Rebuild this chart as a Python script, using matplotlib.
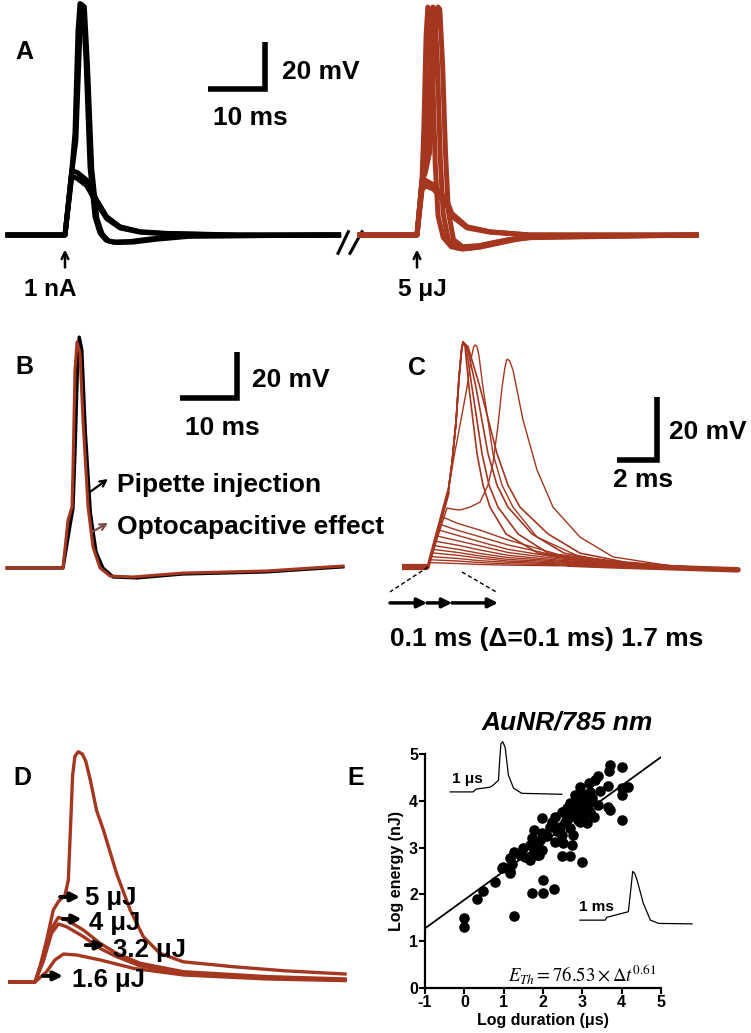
import math
import matplotlib
matplotlib.use('Agg')
from matplotlib import pyplot as plt

plt.rcParams['font.family'] = ['Liberation Sans', 'DejaVu Sans']
plt.rcParams['mathtext.fontset'] = 'stix'
plt.rcParams['axes.unicode_minus'] = False

RED = '#a5361f'
W, H = 751, 1033

# ---------------- data (ms, mV) ----------------
# A: pipette (black) and light (red) evoked traces
A_K_SPIKE1_T = [-10, 0, 1.23, 1.75, 2.28, 2.63, 3.16, 3.68, 4.39, 5.26, 6.14, 7.2, 8.4, 11.4, 14.9, 21.4, 48]
A_K_SPIKE1_V = [0, 0, 28.5, 43.4, 87, 98.5, 97.5, 74.5, 28.9, 7.7, 0.85, -2.2, -3.0, -2.8, -1.7, -0.4, 0]
A_K_SPIKE2_T = [-10, 0, 1.2, 1.9, 2.6, 2.95, 3.4, 3.95, 4.7, 5.6, 6.5, 7.6, 9, 12, 16, 22, 48]
A_K_SPIKE2_V = [0, 0, 27, 40, 85, 98, 97, 72, 28, 7, 0.5, -2.5, -3.2, -3.0, -1.8, -0.5, 0]
A_K_SUB1_T = [-10, 0, 1.2, 2.2, 3.8, 5.56, 7.3, 9.65, 13.2, 17.8, 30, 48]
A_K_SUB1_V = [0, 0, 27.5, 26.5, 23.4, 14.9, 7.8, 3.5, 1.4, 0.7, 0, 0]
A_K_SUB2_V = [0, 0, 25, 24, 21, 13.5, 7, 3, 1.2, 0.5, 0, 0]

A_R_SPIKE1_T = [-10, 0, 0.88, 1.2, 1.6, 1.9, 2.2, 2.7, 3.2, 3.7, 4.6, 6.0, 8, 11, 17, 20, 49]
A_R_SPIKE1_V = [0, 0, 23.4, 45, 85, 97, 96, 72, 30, 8, -1, -5, -6, -5.2, -2.1, -0.9, 0]
A_R_SPIKE2_T = [-10, 0, 0.88, 1.4, 2.1, 2.5, 2.8, 3.1, 3.6, 4.1, 4.6, 5.5, 7, 9.5, 13, 18, 49]
A_R_SPIKE2_V = [0, 0, 23.4, 28, 60, 90, 97, 96, 72, 32, 9, -2, -5.5, -5.5, -3.5, -1.2, 0]
A_R_SPIKE3_T = [-10, 0, 0.88, 1.4, 2.2, 2.9, 3.4, 3.7, 4.0, 4.5, 5.0, 5.5, 6.4, 8, 11, 16, 22, 49]
A_R_SPIKE3_V = [0, 0, 23.4, 26, 35, 70, 94, 97, 96, 72, 35, 10, -2, -5, -4.5, -2, -0.6, 0]
A_R_SUB1_T = [-10, 0, 0.88, 1.4, 2.9, 5.2, 6.1, 8.8, 12.8, 19.8, 49]
A_R_SUB1_V = [0, 0, 21, 23.4, 21.3, 14.9, 9.2, 3.5, 1.4, 0, 0]
A_R_SUB2_V = [0, 0, 19, 21, 19.5, 13, 8, 3, 1.2, 0, 0]

# B: pipette injection vs optocapacitive
B_PIP_T = [-9.8, 0, 1.2, 1.75, 2.1, 2.6, 2.85, 3.3, 3.9, 4.8, 5.8, 7, 8.8, 13, 21, 35.6, 49.1]
B_PIP_V = [0, 0, 18, 26, 50, 92, 100.4, 95, 60, 24, 7, 0, -3.9, -4.3, -2.6, -1.7, 0.5]
B_OPTO_T = [-9.8, 0, 0.88, 1.58, 1.75, 2.1, 2.46, 2.98, 3.5, 4.4, 5.26, 6.5, 8.25, 12.3, 21, 35.6, 49.1]
B_OPTO_V = [0, 0, 20.9, 26.5, 42.6, 86, 98.3, 93.5, 64.3, 26.5, 9.1, 0, -3.5, -3.9, -2.2, -1.3, 0.87]

# C: pulse duration series 0.1 - 1.7 ms
C_SUB_T = [1.5, 2.6, 4.0, 6.5, 9.5, 12.0, 15.5]
C_SUB_TB = [0.68, 0.58, 0.50, 0.42, 0.35, 0.29, 0.24, 0.19, 0.14, 0.10, 0.06]
C_SUB_VB = [16.0, 13.6, 11.8, 9.9, 8.2, 6.8, 5.6, 4.5, 3.3, 2.3, 1.4]
C_SUB_V = [
    [13.8, 11.7, 8.6, 4.0, 1.6, 0.3, -0.8],
    [11.6, 9.6, 7.0, 3.5, 1.4, 0.3, -0.8],
    [10.0, 8.0, 5.6, 3.0, 1.2, 0.2, -0.8],
    [8.3, 6.7, 4.6, 2.6, 1.0, 0.2, -0.8],
    [6.9, 5.4, 3.7, 2.2, 0.9, 0.1, -0.8],
    [5.6, 4.3, 3.0, 1.9, 0.8, 0.1, -0.8],
    [4.6, 3.5, 2.4, 1.6, 0.6, 0.0, -0.8],
    [3.7, 2.8, 1.9, 1.3, 0.5, 0.0, -0.8],
    [2.7, 2.0, 1.5, 1.0, 0.4, 0.0, -0.8],
    [1.9, 1.4, 1.0, 0.7, 0.3, -0.1, -0.8],
    [1.1, 0.8, 0.6, 0.4, 0.2, -0.1, -0.8],
]
C_RISE_T = [0, 1.0, 1.2, 1.4, 1.55, 1.68, 1.75]
C_RISE_V = [0, 23.5, 33, 46, 60, 69, 71.4]
C_FALL_T = [
    [1.85, 2.05, 2.45, 2.75, 3.1, 3.9, 5.5, 8.0, 12, 15.5],
    [1.9, 2.2, 2.7, 3.05, 3.5, 4.5, 6.0, 8.5, 12, 15.5],
    [1.95, 2.4, 3.0, 3.45, 4.0, 5.2, 6.8, 9.2, 12.5, 15.5],
    [2.0, 2.6, 3.45, 4.0, 4.6, 6.0, 7.6, 9.8, 12.5, 15.5],
]
C_FALL_V = [70, 57, 36, 26, 19, 10.5, 4.4, 1.6, 0.2, -0.8]
C_LATE_T = [0, 1.0, 1.3, 1.6, 1.95, 2.15, 2.28, 2.35, 2.45, 2.55, 2.75, 3.25, 3.7, 4.25, 5.45, 7.6, 11, 15.5]
C_LATE_V = [0, 23.5, 35, 45, 57, 66, 69.8, 70.5, 70, 67, 57, 36, 26, 19, 9.5, 3.2, 0.6, -0.8]
C_DIP_T = [0, 0.95, 1.3, 1.6, 2.1, 2.6, 3.0, 3.25, 3.5, 3.7, 3.85, 3.95, 4.08, 4.25, 4.75, 5.45, 6.25, 7.6, 9.25, 12, 15.5]
C_DIP_V = [0, 18.7, 18.3, 18.1, 19, 20.6, 26, 33, 45, 57, 63.5, 66, 65.5, 62.5, 46.7, 30.8, 19, 9.5, 3.2, 0.5, -0.8]
C_BASE_T = [-1.3, 0]
C_BASE_V = [0, 0]
C_TAIL_T = [7, 9, 12, 15.5]
C_TAIL_V = [0.9, 0.4, -0.2, -0.9]

# D: energy series
D_LABELS = ['5 μJ', '4 μJ', '3.2 μJ', '1.6 μJ']
D_5_T = [-4.4, 0, 0.88, 2.05, 3.2, 4.1, 5.26, 5.85, 6.3, 6.6, 7.0, 7.6, 8.3, 8.9, 9.7, 10.8, 12.0, 14.3, 16.7, 19.0, 21.9, 26, 34.8, 43.6, 54.4]
D_5_V = [0, 0, 6.5, 17.9, 30.6, 34.2, 37, 43.4, 70, 88, 96, 98, 97, 94, 86, 73, 64.7, 46.3, 30.6, 19.3, 12.2, 8.6, 6.5, 4.8, 3.4]
D_4_T = [-4.4, 0, 1.46, 2.9, 4.1, 5.55, 8.5, 11.4, 14.3, 18.4, 26, 40.6, 54.4]
D_4_V = [0, 0, 10.8, 22.8, 27.5, 26.4, 22.1, 16.5, 12.2, 8, 4.4, 2.3, 1.3]
D_32_V = [0, 0, 8.8, 20.7, 24.7, 23.5, 19.3, 14.3, 10.8, 6.9, 3.7, 1.7, 0.9]
D_16_T = [-4.4, 0, 2.05, 3.5, 5.0, 7.3, 11.4, 17.3, 26, 40.6, 54.4]
D_16_V = [0, 0, 4.4, 9.4, 11.9, 11.5, 9.4, 5.8, 3.0, 1.3, 0.6]

# E: threshold energy vs pulse duration (log10)
E_X = [0, 0, 0.32, 0.48, 0.78, 0.95, 1.15, 1.25, 1.72, 1.99, 1.99, 2.28, 0.99, 1.16, 1.21, 1.25,
       1.42, 1.50, 1.67, 1.67, 1.72, 1.76, 1.76, 1.84, 1.84, 1.93, 1.97, 1.97, 1.97, 2.18, 2.22,
       2.31, 2.31, 2.44, 2.48, 2.48, 2.52, 2.61, 2.61, 2.69, 2.69, 2.73, 2.77, 2.77, 2.82, 2.90,
       2.94, 2.94, 2.94, 3.03, 3.11, 3.11, 3.16, 3.16, 3.20, 3.20, 3.33, 3.41, 3.41, 3.66, 3.66,
       3.69, 3.71, 3.71, 4.0, 4.0, 4.0, 4.17, 4.0, 2.48, 2.69, 2.99, 1.16, 3.0, 3.05, 2.85, 3.25,
       3.1, 2.55, 2.35, 2.1, 1.9, 1.55, 3.3, 2.9, 3.0, 3.45]
E_Y = [1.49, 1.30, 1.90, 2.08, 2.27, 2.56, 2.45, 1.54, 2.02, 2.31, 2.04, 2.11, 2.59, 2.77, 2.66, 2.91,
       2.84, 2.99, 2.73, 3.06, 3.20, 3.38, 2.91, 3.06, 2.84, 3.16, 3.63, 3.31, 2.95, 3.45, 3.55,
       3.66, 3.11, 3.45, 3.77, 3.27, 3.09, 3.84, 3.63, 3.95, 3.41, 3.06, 3.70, 3.27, 4.12, 3.98,
       4.30, 3.80, 3.55, 3.70, 4.09, 3.52, 4.37, 3.95, 4.19, 3.77, 4.44, 4.52, 3.91, 4.32, 3.87,
       4.64, 4.76, 3.80, 4.73, 4.27, 4.12, 4.30, 3.60, 2.81, 2.81, 2.70, 2.49, 3.90, 4.00, 3.85, 4.05,
       3.75, 3.55, 3.35, 3.25, 2.85, 2.80, 3.65, 3.60, 4.15, 4.20]
FIT_A = 76.53
FIT_B = 0.61
FIT_X = [-1, 5]
INSET_US_X = [-0.36, 0.22, 0.30, 0.65, 0.74, 0.87, 0.89, 0.93, 0.98, 1.04, 1.12, 1.25, 1.46, 1.93, 2.48]
INSET_US_Y = [4.19, 4.19, 4.25, 4.29, 4.34, 4.44, 4.76, 5.22, 5.26, 5.13, 4.55, 4.27, 4.16, 4.15, 4.14]
INSET_MS_X = [2.94, 3.58, 3.62, 4.17, 4.23, 4.28, 4.33, 4.39, 4.55, 4.73, 4.94, 5.79]
INSET_MS_Y = [1.45, 1.45, 1.51, 1.63, 2.09, 2.49, 2.45, 2.31, 1.81, 1.45, 1.38, 1.37]


fig = plt.figure(figsize=(W / 100, H / 100), dpi=100)


def panel(box, origin, scale):
    # box: pixel left, right, top, bottom; origin: pixel of (0 ms, 0 mV); scale: px per ms, px per mV
    x0, x1, y0, y1 = box
    ox, oy = origin
    sx, sy = scale
    ax = fig.add_axes([x0 / W, 1 - y1 / H, (x1 - x0) / W, (y1 - y0) / H])
    ax.set_xlim((x0 - ox) / sx, (x1 - ox) / sx)
    ax.set_ylim((oy - y1) / sy, (oy - y0) / sy)
    ax.axis('off')
    return ax


def scalebar(ax, t0, v0, dt, dv, lw):
    ax.plot([t0, t0 + dt, t0 + dt], [v0, v0, v0 + dv], color='k', lw=lw,
            solid_joinstyle='miter', solid_capstyle='butt')


def label(px, py, s):
    fig.text(px / W, 1 - py / H, s, fontsize=18, fontweight='bold', ha='left', va='center')


def btext(ax, x, y, s, size=19, **kw):
    ax.text(x, y, s, fontsize=size, fontweight='bold', va='center', **kw)


# ---------------- A ----------------
ax_a1 = panel((0, 365, 0, 300), (65, 235), (5.7, 2.35))
ax_a2 = panel((350, 751, 0, 300), (417, 235), (5.7, 2.35))
for t, v in [(A_K_SUB1_T, A_K_SUB1_V), (A_K_SUB1_T, A_K_SUB2_V),
             (A_K_SPIKE1_T, A_K_SPIKE1_V), (A_K_SPIKE2_T, A_K_SPIKE2_V)]:
    ax_a1.plot(t, v, color='k', lw=3.6, solid_joinstyle='round')
for t, v in [(A_R_SUB1_T, A_R_SUB1_V), (A_R_SUB1_T, A_R_SUB2_V), (A_R_SPIKE1_T, A_R_SPIKE1_V),
             (A_R_SPIKE2_T, A_R_SPIKE2_V), (A_R_SPIKE3_T, A_R_SPIKE3_V)]:
    ax_a2.plot(t, v, color=RED, lw=3.6, solid_joinstyle='round')
# axis break
ax_a1.plot([47.9, 49.7], [-7.8, 1.4], color='k', lw=2.2)
ax_a1.plot([50.0, 52.1], [-7.8, 1.4], color='k', lw=2.2)
scalebar(ax_a1, 25.1, 62.1, 10, 20, 4)
btext(ax_a1, 38.1, 69.4, '20 mV')
btext(ax_a1, 26.0, 49.8, '10 ms')
for ax, txt, tx in [(ax_a1, '1 nA', -2.6), (ax_a2, '5 μJ', 1.0)]:
    ax.annotate('', xy=(0, -6.2), xytext=(0, -13.8),
                arrowprops=dict(arrowstyle='->', color='k', lw=1.8, mutation_scale=12,
                                shrinkA=0, shrinkB=0))
    btext(ax, tx, -23.4, txt, size=17.5, ha='center')
label(15, 52, 'A')

# ---------------- B ----------------
ax_b = panel((0, 370, 320, 610), (63, 568), (5.7, 2.3))
ax_b.plot(B_PIP_T, B_PIP_V, color='k', lw=2.4)
ax_b.plot(B_OPTO_T, B_OPTO_V, color=RED, lw=2.2)
scalebar(ax_b, 20.5, 73.9, 10, 20, 4)
btext(ax_b, 33.2, 81.7, '20 mV')
btext(ax_b, 21.4, 60.9, '10 ms')
ax_b.annotate('', xy=(7.9, 38.7), xytext=(4.7, 33.0),
              arrowprops=dict(arrowstyle='->', color='k', lw=1.6, mutation_scale=11, shrinkA=0, shrinkB=0))
ax_b.annotate('', xy=(7.9, 19.6), xytext=(5.1, 15.7),
              arrowprops=dict(arrowstyle='->', color='#7b4c4c', lw=1.6, mutation_scale=11, shrinkA=0, shrinkB=0))
btext(ax_b, 9.5, 36.1, 'Pipette injection')
btext(ax_b, 9.5, 17.8, 'Optocapacitive effect')
label(15, 367, 'B')

# ---------------- C ----------------
ax_c = panel((385, 751, 320, 660), (428, 567), (20, 3.15))
ax_c.plot(C_BASE_T, C_BASE_V, color=RED, lw=4.5, solid_capstyle='butt')
ax_c.plot(C_TAIL_T, C_TAIL_V, color=RED, lw=4, solid_capstyle='round')
for tb, vb, vals in zip(C_SUB_TB, C_SUB_VB, C_SUB_V):
    ax_c.plot([0, tb] + C_SUB_T, [0, vb] + vals, color=RED, lw=1.0)
for ft in C_FALL_T:
    ax_c.plot(C_RISE_T + ft, C_RISE_V + C_FALL_V, color=RED, lw=1.2)
ax_c.plot(C_LATE_T, C_LATE_V, color=RED, lw=1.0)
ax_c.plot(C_DIP_T, C_DIP_V, color=RED, lw=1.0)
ax_c.plot(C_RISE_T[:2], C_RISE_V[:2], color=RED, lw=2.5)
scalebar(ax_c, 9.45, 34, 2, 20, 4)
btext(ax_c, 12.05, 42.9, '20 mV')
btext(ax_c, 9.25, 27.6, '2 ms')
ax_c.plot([0, -1.9], [0, -7.9], color='k', lw=1, ls=(0, (3, 2)))
ax_c.plot([1.7, 3.5], [-1.6, -8.25], color='k', lw=1, ls=(0, (3, 2)))
for a, b in [(-1.9, -0.05), (-0.05, 1.2), (1.2, 3.5)]:
    ax_c.annotate('', xy=(b, -11.4), xytext=(a, -11.4), annotation_clip=False,
                  arrowprops=dict(arrowstyle='-|>', color='k', lw=2.5, mutation_scale=14,
                                  shrinkA=0, shrinkB=0))
btext(ax_c, -1.9, -23.0, '0.1 ms (Δ=0.1 ms) 1.7 ms')
label(408, 368, 'C')

# ---------------- D ----------------
ax_d = panel((0, 370, 690, 1010), (35, 982), (5.7, 2.35))
ax_d.plot(D_16_T, D_16_V, color=RED, lw=2.4)
ax_d.plot(D_4_T, D_32_V, color=RED, lw=2.4)
ax_d.plot(D_4_T, D_4_V, color=RED, lw=2.4)
ax_d.plot(D_5_T, D_5_V, color=RED, lw=2.4)
d_pos = [((4.4, 36.2), (7.9, 36.2), (8.8, 35.7)),
         ((4.9, 26.8), (8.2, 26.8), (9.5, 25.1)),
         ((8.9, 15.7), (12.3, 15.7), (13.7, 13.6)),
         ((1.4, 2.6), (4.9, 2.6), (6.5, 0.85))]
for lab, (a, b, tp) in zip(D_LABELS, d_pos):
    ax_d.annotate('', xy=b, xytext=a,
                  arrowprops=dict(arrowstyle='-|>', color='k', lw=2.8, mutation_scale=13,
                                  shrinkA=0, shrinkB=0))
    btext(ax_d, tp[0], tp[1], lab, size=18.5)
label(13, 778, 'D')

# ---------------- E ----------------
ax_e = fig.add_axes([425 / W, 1 - 988 / H, 236 / W, 234 / H])
ax_e.scatter(E_X, E_Y, s=58, color='k', linewidths=0, zorder=3)
fit_y = [math.log10(FIT_A) + FIT_B * x for x in FIT_X]
ax_e.plot(FIT_X, fit_y, color='k', lw=1.3, zorder=2)
ax_e.plot(INSET_US_X, INSET_US_Y, color='k', lw=0.9, clip_on=False)
ax_e.plot(INSET_MS_X, INSET_MS_Y, color='k', lw=0.9, clip_on=False)
btext(ax_e, -0.31, 4.47, '1 μs', size=11)
btext(ax_e, 2.92, 1.73, '1 ms', size=11)
ax_e.text(1.1, 0.28, r'$E_{Th} = 76.53\times\Delta t^{0.61}$', fontsize=13.5, va='center')
ax_e.set_xlim(-1, 5)
ax_e.set_ylim(0, 5)
ax_e.set_xticks(range(-1, 6))
ax_e.set_yticks(range(0, 6))
for s in ['top', 'right']:
    ax_e.spines[s].set_visible(False)
for s in ['left', 'bottom']:
    ax_e.spines[s].set_linewidth(1.6)
ax_e.tick_params(direction='out', length=4, width=1.5, labelsize=11.5, pad=1)
for tl in ax_e.get_xticklabels() + ax_e.get_yticklabels():
    tl.set_fontweight('bold')
ax_e.set_xlabel('Log duration (μs)', fontsize=11.5, fontweight='bold', labelpad=2)
ax_e.set_ylabel('Log energy (nJ)', fontsize=11.5, fontweight='bold', labelpad=4)
fig.text(567 / W, 1 - 722 / H, 'AuNR/785 nm', fontsize=19, fontweight='bold', style='italic',
         ha='center', va='center')
label(347, 778, 'E')

fig.savefig('out.png', dpi=100)
